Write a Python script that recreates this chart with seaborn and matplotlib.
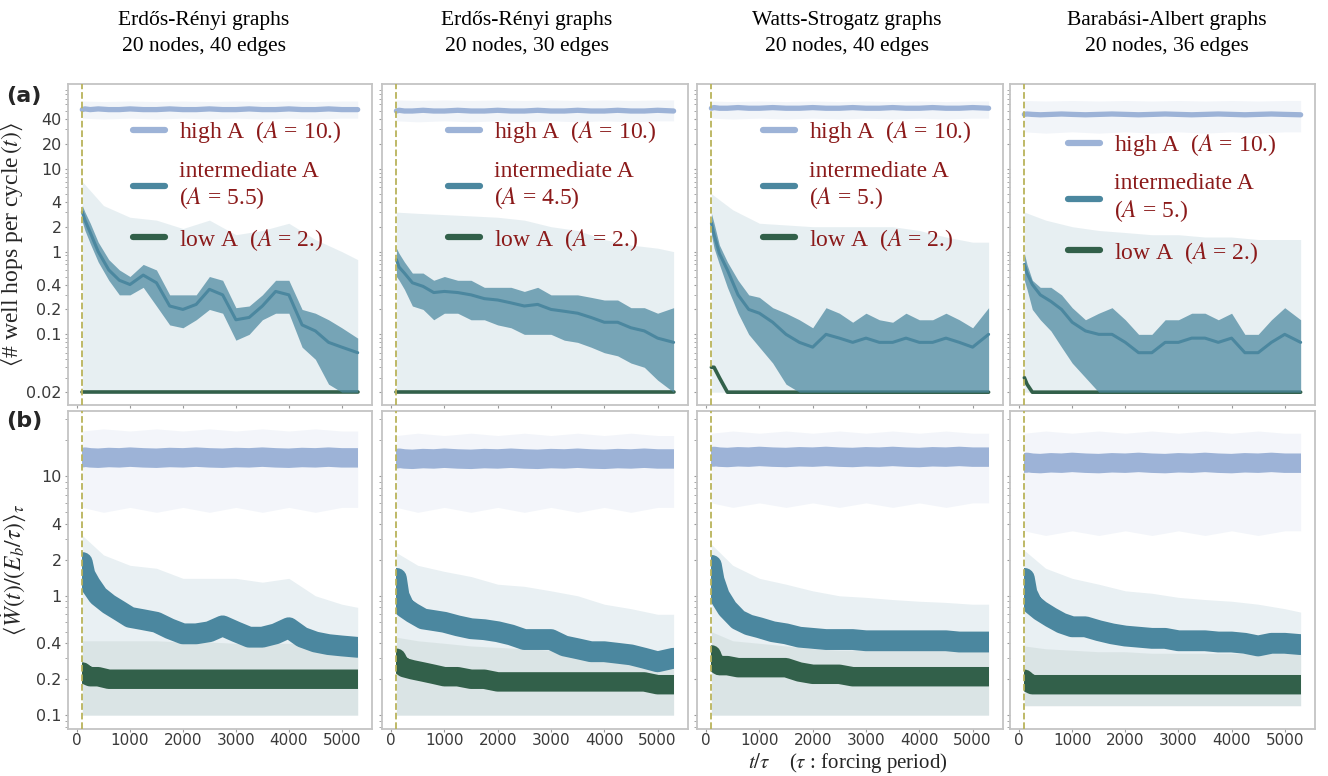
import numpy as np
import pandas as pd
import matplotlib
matplotlib.use("Agg")
import matplotlib.pyplot as plt
import seaborn as sns
from matplotlib.lines import Line2D
from matplotlib.patches import Rectangle
from matplotlib.ticker import FixedLocator, FixedFormatter, NullFormatter, LogLocator

sns.set_theme(style="white")
plt.rcParams['font.family'] = ['DejaVu Sans']
plt.rcParams['mathtext.fontset'] = 'stix'

# ---------------- data ----------------
T = [100, 150, 250, 400, 600, 800, 1000, 1250, 1500, 1750, 2000, 2250,
     2500, 2750, 3000, 3250, 3500, 3750, 4000, 4250, 4500, 4750, 5000, 5300]
TB = [100, 500, 1000, 1500, 2000, 2500, 3000, 3500, 4000, 4500, 5000, 5300]

titles = ["Erdős-Rényi graphs\n20 nodes, 40 edges",
          "Erdős-Rényi graphs\n20 nodes, 30 edges",
          "Watts-Strogatz graphs\n20 nodes, 40 edges",
          "Barabási-Albert graphs\n20 nodes, 36 edges"]
mid_amplitudes = ["5.5", "4.5", "5.", "5."]

top_yticks = [0.02, 0.1, 0.2, 0.4, 1, 2, 4, 10, 20, 40]
top_yticklabels = ["0.02", "0.1", "0.2", "0.4", "1", "2", "4", "10", "20", "40"]
bot_yticks = [0.1, 0.2, 0.4, 1, 2, 4, 10]
bot_yticklabels = ["0.1", "0.2", "0.4", "1", "2", "4", "10"]
xticks = [0, 1000, 2000, 3000, 4000, 5000]

# ---- (a) well hops per cycle ----
# Erdos-Renyi 40 edges
hops_high_er40 = [52, 53, 52, 53, 52, 52, 53, 52, 52, 53, 52, 52, 53, 52, 52, 53, 52, 52, 53, 52, 52, 53, 52, 52]
hops_high_lo_er40 = [41, 40, 41, 40, 41, 40, 41, 40, 41, 40, 41, 41]
hops_high_hi_er40 = [66, 65, 66, 65, 66, 65, 66, 65, 66, 65, 66, 66]
hops_mid_er40 = [3.0, 2.4, 1.7, 1.0, 0.6, 0.45, 0.4, 0.52, 0.42, 0.22, 0.2, 0.23, 0.35, 0.3, 0.15, 0.16, 0.22, 0.33, 0.3, 0.13, 0.11, 0.08, 0.07, 0.06]
hops_mid_lo_er40 = [2.3, 1.8, 1.25, 0.75, 0.45, 0.3, 0.3, 0.37, 0.22, 0.13, 0.12, 0.15, 0.2, 0.18, 0.085, 0.1, 0.15, 0.18, 0.18, 0.07, 0.05, 0.025, 0.02, 0.02]
hops_mid_hi_er40 = [3.6, 3.0, 2.2, 1.3, 0.8, 0.6, 0.5, 0.7, 0.6, 0.3, 0.3, 0.3, 0.5, 0.45, 0.21, 0.22, 0.3, 0.45, 0.45, 0.2, 0.18, 0.15, 0.12, 0.09]
hops_mid_band_er40 = [7.0, 3.6, 2.6, 2.4, 1.9, 2.4, 1.6, 1.8, 2.2, 1.4, 1.0, 0.8]
hops_low_er40 = [0.02] * 24

# Erdos-Renyi 30 edges
hops_high_er30 = [50, 51, 50, 50, 51, 50, 50, 51, 50, 50, 51, 50, 50, 51, 50, 50, 51, 50, 50, 51, 50, 50, 51, 50]
hops_high_lo_er30 = [38, 37, 38, 37, 38, 37, 38, 37, 38, 37, 38, 38]
hops_high_hi_er30 = [68, 67, 68, 67, 68, 67, 68, 67, 68, 67, 68, 68]
hops_mid_er30 = [0.8, 0.65, 0.55, 0.42, 0.38, 0.32, 0.33, 0.32, 0.3, 0.27, 0.26, 0.24, 0.22, 0.23, 0.2, 0.19, 0.18, 0.16, 0.14, 0.14, 0.12, 0.11, 0.09, 0.08]
hops_mid_lo_er30 = [0.5, 0.45, 0.35, 0.22, 0.2, 0.15, 0.18, 0.18, 0.15, 0.15, 0.13, 0.12, 0.1, 0.1, 0.1, 0.085, 0.08, 0.07, 0.06, 0.055, 0.045, 0.04, 0.028, 0.02]
hops_mid_hi_er30 = [1.1, 0.95, 0.75, 0.55, 0.55, 0.45, 0.5, 0.45, 0.45, 0.37, 0.37, 0.37, 0.33, 0.37, 0.3, 0.3, 0.3, 0.28, 0.26, 0.26, 0.21, 0.21, 0.18, 0.21]
hops_mid_band_er30 = [3.0, 2.9, 2.8, 2.7, 2.6, 2.4, 2.0, 1.8, 1.4, 1.2, 1.1, 1.0]
hops_low_er30 = [0.02] * 24

# Watts-Strogatz 40 edges
hops_high_ws40 = [54, 55, 54, 54, 55, 54, 54, 55, 54, 54, 55, 54, 54, 55, 54, 54, 55, 54, 54, 55, 54, 54, 55, 54]
hops_high_lo_ws40 = [41, 40, 41, 40, 41, 40, 41, 40, 41, 40, 41, 41]
hops_high_hi_ws40 = [66, 65, 66, 65, 66, 65, 66, 65, 66, 65, 66, 66]
hops_mid_ws40 = [2.2, 1.6, 0.95, 0.6, 0.3, 0.2, 0.18, 0.14, 0.1, 0.08, 0.07, 0.1, 0.09, 0.08, 0.09, 0.08, 0.08, 0.09, 0.08, 0.08, 0.09, 0.08, 0.07, 0.1]
hops_mid_lo_ws40 = [1.6, 1.1, 0.7, 0.37, 0.18, 0.1, 0.07, 0.045, 0.025, 0.02, 0.02, 0.02, 0.02, 0.02, 0.02, 0.02, 0.02, 0.02, 0.02, 0.02, 0.02, 0.02, 0.02, 0.02]
hops_mid_hi_ws40 = [2.9, 2.2, 1.2, 0.75, 0.45, 0.3, 0.28, 0.21, 0.18, 0.15, 0.12, 0.21, 0.18, 0.14, 0.18, 0.15, 0.14, 0.18, 0.15, 0.15, 0.18, 0.15, 0.12, 0.21]
hops_mid_band_ws40 = [5.0, 3.2, 2.2, 2.1, 2.0, 2.0, 2.0, 2.0, 1.8, 1.5, 1.3, 1.3]
hops_low_ws40 = [0.04, 0.04, 0.03] + [0.02] * 21

# Barabasi-Albert 36 edges
hops_high_ba36 = [45.5, 46, 45.5, 45, 45.5, 46, 45.5, 45, 45.5, 46, 45.5, 45, 45.5, 46, 45.5, 45, 45.5, 46, 45.5, 45, 45.5, 46, 45.5, 45]
hops_high_lo_ba36 = [28, 27, 28, 27, 28, 27, 28, 27, 28, 27, 28, 28]
hops_high_hi_ba36 = [67, 66, 67, 66, 67, 66, 67, 66, 67, 66, 67, 67]
hops_mid_ba36 = [0.7, 0.55, 0.4, 0.3, 0.25, 0.2, 0.14, 0.11, 0.1, 0.1, 0.08, 0.06, 0.06, 0.08, 0.08, 0.09, 0.09, 0.08, 0.09, 0.06, 0.06, 0.08, 0.1, 0.08]
hops_mid_lo_ba36 = [0.45, 0.35, 0.2, 0.15, 0.11, 0.07, 0.045, 0.03, 0.02, 0.02, 0.02, 0.02, 0.02, 0.02, 0.02, 0.02, 0.02, 0.02, 0.02, 0.02, 0.02, 0.02, 0.02, 0.02]
hops_mid_hi_ba36 = [0.95, 0.7, 0.45, 0.37, 0.37, 0.3, 0.21, 0.15, 0.18, 0.21, 0.15, 0.1, 0.1, 0.15, 0.15, 0.18, 0.18, 0.15, 0.18, 0.1, 0.1, 0.15, 0.21, 0.15]
hops_mid_band_ba36 = [3.0, 2.4, 2.0, 1.8, 1.7, 1.6, 1.6, 1.5, 1.5, 1.4, 1.4, 1.4]
hops_low_ba36 = [0.03, 0.025] + [0.02] * 22

hops_floor = [0.02] * 12

# ---- (b) dissipated power ----
# Erdos-Renyi 40 edges
pow_high_er40 = [14.3, 14.5, 14.3, 14.2, 14.4, 14.3, 14.5, 14.3, 14.2, 14.4, 14.3, 14.5, 14.3, 14.2, 14.4, 14.3, 14.5, 14.3, 14.2, 14.4, 14.3, 14.5, 14.3, 14.3]
pow_high_lo_er40 = [5.5, 5.0, 5.5, 5.0, 5.5, 5.0, 5.5, 5.0, 5.5, 5.0, 5.5, 5.5]
pow_high_hi_er40 = [24, 25, 24, 25, 24, 25, 24, 25, 24, 25, 24, 24]
pow_mid_er40 = [1.9, 1.5, 1.25, 1.0, 0.85, 0.75, 0.66, 0.63, 0.6, 0.53, 0.48, 0.48, 0.5, 0.56, 0.5, 0.45, 0.45, 0.48, 0.54, 0.45, 0.41, 0.39, 0.38, 0.37]
pow_mid_band_er40 = [3.2, 2.2, 1.8, 1.7, 1.4, 1.4, 1.4, 1.3, 1.4, 1.0, 0.85, 0.8]
pow_low_er40 = [0.23, 0.22, 0.21, 0.21, 0.2, 0.2, 0.2, 0.2, 0.2, 0.2, 0.2, 0.2, 0.2, 0.2, 0.2, 0.2, 0.2, 0.2, 0.2, 0.2, 0.2, 0.2, 0.2, 0.2]
pow_low_band_er40 = [0.42, 0.42, 0.42, 0.42, 0.41, 0.41, 0.4, 0.4, 0.4, 0.4, 0.4, 0.4]
pow_floor_er40 = [0.1] * 12

# Erdos-Renyi 30 edges
pow_high_er30 = [14.0, 14.2, 14.0, 13.9, 14.1, 14.0, 14.2, 14.0, 13.9, 14.1, 14.0, 14.2, 14.0, 13.9, 14.1, 14.0, 14.2, 14.0, 13.9, 14.1, 14.0, 14.2, 14.0, 14.0]
pow_high_lo_er30 = [5.5, 5.0, 5.5, 5.0, 5.5, 5.0, 5.5, 5.0, 5.5, 5.0, 5.5, 5.5]
pow_high_hi_er30 = [22, 23, 22, 23, 22, 23, 22, 23, 22, 23, 22, 22]
pow_mid_er30 = [1.4, 1.0, 0.8, 0.72, 0.64, 0.62, 0.6, 0.56, 0.53, 0.52, 0.5, 0.47, 0.43, 0.43, 0.43, 0.38, 0.36, 0.34, 0.34, 0.33, 0.32, 0.3, 0.28, 0.3]
pow_mid_band_er30 = [2.3, 1.8, 1.6, 1.45, 1.25, 1.2, 1.1, 1.0, 0.85, 0.78, 0.7, 0.7]
pow_low_er30 = [0.3, 0.27, 0.25, 0.24, 0.23, 0.22, 0.21, 0.21, 0.2, 0.2, 0.19, 0.19, 0.19, 0.19, 0.19, 0.19, 0.19, 0.19, 0.19, 0.19, 0.19, 0.19, 0.18, 0.18]
pow_low_band_er30 = [0.45, 0.42, 0.4, 0.38, 0.37, 0.36, 0.35, 0.34, 0.33, 0.32, 0.32, 0.32]
pow_floor_er30 = [0.1] * 12

# Watts-Strogatz 40 edges
pow_high_ws40 = [14.5, 14.7, 14.5, 14.4, 14.6, 14.5, 14.7, 14.5, 14.4, 14.6, 14.5, 14.7, 14.5, 14.4, 14.6, 14.5, 14.7, 14.5, 14.4, 14.6, 14.5, 14.7, 14.5, 14.5]
pow_high_lo_ws40 = [6.0, 5.5, 6.0, 5.5, 6.0, 5.5, 6.0, 5.5, 6.0, 5.5, 6.0, 6.0]
pow_high_hi_ws40 = [23, 24, 23, 24, 23, 24, 23, 24, 23, 24, 23, 23]
pow_mid_ws40 = [1.8, 1.35, 1.0, 0.78, 0.63, 0.57, 0.54, 0.5, 0.48, 0.45, 0.44, 0.43, 0.43, 0.43, 0.42, 0.42, 0.42, 0.42, 0.42, 0.42, 0.42, 0.41, 0.41, 0.41]
pow_mid_band_ws40 = [2.7, 1.8, 1.4, 1.25, 1.1, 1.0, 0.97, 0.93, 0.9, 0.88, 0.85, 0.85]
pow_low_ws40 = [0.32, 0.28, 0.26, 0.26, 0.25, 0.25, 0.25, 0.25, 0.25, 0.23, 0.22, 0.22, 0.22, 0.21, 0.21, 0.21, 0.21, 0.21, 0.21, 0.21, 0.21, 0.21, 0.21, 0.21]
pow_low_band_ws40 = [0.5, 0.42, 0.4, 0.38, 0.36, 0.35, 0.35, 0.35, 0.35, 0.35, 0.35, 0.35]
pow_floor_ws40 = [0.1] * 12

# Barabasi-Albert 36 edges
pow_high_ba36 = [12.9, 13.1, 12.9, 12.8, 13.0, 12.9, 13.1, 12.9, 12.8, 13.0, 12.9, 13.1, 12.9, 12.8, 13.0, 12.9, 13.1, 12.9, 12.8, 13.0, 12.9, 13.1, 12.9, 12.9]
pow_high_lo_ba36 = [3.5, 3.2, 3.5, 3.2, 3.5, 3.2, 3.5, 3.2, 3.5, 3.2, 3.5, 3.5]
pow_high_hi_ba36 = [23, 24, 23, 24, 23, 24, 23, 24, 23, 24, 23, 23]
pow_mid_ba36 = [1.4, 1.05, 0.85, 0.75, 0.66, 0.59, 0.55, 0.55, 0.51, 0.48, 0.46, 0.45, 0.44, 0.44, 0.42, 0.42, 0.42, 0.41, 0.41, 0.4, 0.38, 0.4, 0.4, 0.39]
pow_mid_band_ba36 = [2.4, 1.7, 1.4, 1.25, 1.1, 1.05, 0.97, 0.93, 0.9, 0.85, 0.78, 0.73]
pow_low_ba36 = [0.2, 0.19, 0.18, 0.18, 0.18, 0.18, 0.18, 0.18, 0.18, 0.18, 0.18, 0.18, 0.18, 0.18, 0.18, 0.18, 0.18, 0.18, 0.18, 0.18, 0.18, 0.18, 0.18, 0.18]
pow_low_band_ba36 = [0.38, 0.36, 0.35, 0.34, 0.34, 0.33, 0.33, 0.33, 0.33, 0.33, 0.33, 0.33]
pow_floor_ba36 = [0.12] * 12

# ---------------- assemble ----------------
hops_panels = [
    (hops_high_er40, hops_high_lo_er40, hops_high_hi_er40, hops_mid_er40, hops_mid_lo_er40, hops_mid_hi_er40, hops_mid_band_er40, hops_low_er40),
    (hops_high_er30, hops_high_lo_er30, hops_high_hi_er30, hops_mid_er30, hops_mid_lo_er30, hops_mid_hi_er30, hops_mid_band_er30, hops_low_er30),
    (hops_high_ws40, hops_high_lo_ws40, hops_high_hi_ws40, hops_mid_ws40, hops_mid_lo_ws40, hops_mid_hi_ws40, hops_mid_band_ws40, hops_low_ws40),
    (hops_high_ba36, hops_high_lo_ba36, hops_high_hi_ba36, hops_mid_ba36, hops_mid_lo_ba36, hops_mid_hi_ba36, hops_mid_band_ba36, hops_low_ba36),
]
pow_panels = [
    (pow_high_er40, pow_high_lo_er40, pow_high_hi_er40, pow_mid_er40, pow_mid_band_er40, pow_low_er40, pow_low_band_er40, pow_floor_er40),
    (pow_high_er30, pow_high_lo_er30, pow_high_hi_er30, pow_mid_er30, pow_mid_band_er30, pow_low_er30, pow_low_band_er30, pow_floor_er30),
    (pow_high_ws40, pow_high_lo_ws40, pow_high_hi_ws40, pow_mid_ws40, pow_mid_band_ws40, pow_low_ws40, pow_low_band_ws40, pow_floor_ws40),
    (pow_high_ba36, pow_high_lo_ba36, pow_high_hi_ba36, pow_mid_ba36, pow_mid_band_ba36, pow_low_ba36, pow_low_band_ba36, pow_floor_ba36),
]

C_HIGH = "#9db3d7"
C_MID = "#4b879f"
C_LOW = "#32604a"
C_TXT = "#8b1a1a"
C_VLINE = "#b9b35a"
SERIF = ["Liberation Serif", "DejaVu Serif"]

W, H = 1328, 776
fig = plt.figure(figsize=(W / 100, H / 100), dpi=100)
fig.patch.set_facecolor("white")

cols_px = [(68, 372), (382, 688), (697, 1003), (1010, 1315)]
rows_px = [(84, 405), (411, 729)]


def make_ax(r, c):
    x0, x1 = cols_px[c]
    y0, y1 = rows_px[r]
    ax = fig.add_axes([x0 / W, 1 - y1 / H, (x1 - x0) / W, (y1 - y0) / H])
    ax.set_facecolor("white")
    for s in ax.spines.values():
        s.set_color("#c4c4c4")
        s.set_linewidth(1.3)
    ax.set_yscale("log")
    ax.set_xlim(-170, 5570)
    ax.set_xticks(xticks)
    ax.tick_params(axis="both", which="both", direction="out", color="#9a9a9a",
                   labelsize=11.5, labelcolor="#3a3a3a", left=True, bottom=True)
    ax.tick_params(axis="y", pad=2)
    ax.tick_params(axis="x", pad=0.3)
    ax.tick_params(which="major", length=2.5, width=0.8)
    ax.tick_params(which="minor", length=2, width=0.6)
    ax.axvline(100, color=C_VLINE, ls="--", lw=1.3, zorder=6)
    return ax


def clip_to_data_span(ax, line):
    # keep the round line caps from spilling outside the sampled time span
    rect = Rectangle((T[0], 1e-4), T[-1] - T[0], 1e5, transform=ax.transData,
                     facecolor="none", edgecolor="none")
    line.set_clip_path(rect)


legend_anchor = [(0.215, 0.89), (0.215, 0.89), (0.215, 0.89), (0.19, 0.85)]
round_kw = dict(solid_capstyle="round", solid_joinstyle="round")

for c in range(4):
    # ---------- top row ----------
    ax = make_ax(0, c)
    hh, hlo, hhi, mm, mlo, mhi, mband, ll = hops_panels[c]
    ax.fill_between(TB, hlo, hhi, color=C_HIGH, alpha=0.13, lw=0, zorder=1)
    ax.fill_between(TB, hops_floor, mband, color=C_MID, alpha=0.13, lw=0, zorder=1)
    sns.lineplot(x=T, y=ll, ax=ax, color=C_LOW, linewidth=2.6, zorder=3, legend=False)
    ax.fill_between(T, mlo, mhi, color=C_MID, alpha=0.72, lw=0, zorder=4)
    sns.lineplot(x=T, y=mm, ax=ax, color=C_MID, linewidth=2.2, zorder=4, legend=False, **round_kw)
    sns.lineplot(x=T, y=hh, ax=ax, color=C_HIGH, linewidth=3.8, zorder=5, legend=False)
    ax.set_ylim(0.014, 106)
    ax.yaxis.set_major_locator(FixedLocator(top_yticks))
    ax.yaxis.set_minor_locator(LogLocator(base=10, subs=np.arange(2, 10) * 1.0, numticks=20))
    ax.yaxis.set_minor_formatter(NullFormatter())
    if c == 0:
        ax.yaxis.set_major_formatter(FixedFormatter(top_yticklabels))
        ax.set_ylabel(r"$\langle$# well hops per cycle$\,(t)\rangle$", fontsize=17,
                      family=SERIF)
        ax.yaxis.set_label_coords(-0.14, 0.5)
    else:
        ax.yaxis.set_major_formatter(NullFormatter())
        ax.set_ylabel("")
    ax.xaxis.set_major_formatter(NullFormatter())
    ax.set_xlabel("")
    handles = [Line2D([], [], color=C_HIGH, lw=4.5),
               Line2D([], [], color=C_MID, lw=4.5),
               Line2D([], [], color=C_LOW, lw=4.5)]
    labels = ["high A  ($A$ = 10.)",
              "intermediate A\n($A$ = " + mid_amplitudes[c] + ")",
              "low A  ($A$ = 2.)"]
    leg = ax.legend(handles, labels, loc="upper left", bbox_to_anchor=legend_anchor[c],
                    frameon=False, prop={"family": SERIF, "size": 17}, labelcolor=C_TXT,
                    handlelength=1.35, handletextpad=0.6, labelspacing=0.65,
                    borderpad=0, borderaxespad=0)
    leg.set_zorder(10)

    # ---------- bottom row ----------
    ax = make_ax(1, c)
    ph, phlo, phhi, pm, pmband, pl, plband, pfloor = pow_panels[c]
    ax.fill_between(TB, phlo, phhi, color=C_HIGH, alpha=0.12, lw=0, zorder=1)
    ax.fill_between(TB, pfloor, pmband, color=C_MID, alpha=0.12, lw=0, zorder=1)
    ax.fill_between(TB, pfloor, plband, color=C_LOW, alpha=0.08, lw=0, zorder=1)
    for vals, col, lw, z in [(ph, C_HIGH, 14, 3), (pm, C_MID, 15, 4), (pl, C_LOW, 14, 5)]:
        sns.lineplot(x=T, y=vals, ax=ax, color=col, linewidth=lw, zorder=z, legend=False, **round_kw)
        clip_to_data_span(ax, ax.get_lines()[-1])
    ax.set_ylim(0.0766, 35.3)
    ax.yaxis.set_major_locator(FixedLocator(bot_yticks))
    ax.yaxis.set_minor_locator(LogLocator(base=10, subs=np.arange(2, 10) * 1.0, numticks=20))
    ax.yaxis.set_minor_formatter(NullFormatter())
    ax.set_xticklabels([str(v) for v in xticks])
    ax.tick_params(axis="x", labelsize=11)
    ax.set_xlabel("")
    if c == 0:
        ax.yaxis.set_major_formatter(FixedFormatter(bot_yticklabels))
        ax.set_ylabel(r"$\langle \dot{W}(t)/(E_b/\tau)\rangle_\tau$", fontsize=17)
        ax.yaxis.set_label_coords(-0.13, 0.5)
    else:
        ax.yaxis.set_major_formatter(NullFormatter())
        ax.set_ylabel("")

# column titles
title_x = [204, 527, 847, 1167]
for c in range(4):
    fig.text(title_x[c] / W, 1 - 34 / H, titles[c], ha="center", va="center",
             fontsize=15.5, family=SERIF, linespacing=1.5, color="black")

fig.text(6 / W, 1 - 96 / H, "(a)", fontsize=16, fontweight="bold", va="center", ha="left")
fig.text(6 / W, 1 - 421 / H, "(b)", fontsize=16, fontweight="bold", va="center", ha="left")
fig.text(848 / W, 1 - 775 / H, r"$t/\tau$    ($\tau$ : forcing period)", ha="center",
         va="bottom", fontsize=15, family=SERIF)

fig.savefig("out.png", dpi=100, facecolor="white")
